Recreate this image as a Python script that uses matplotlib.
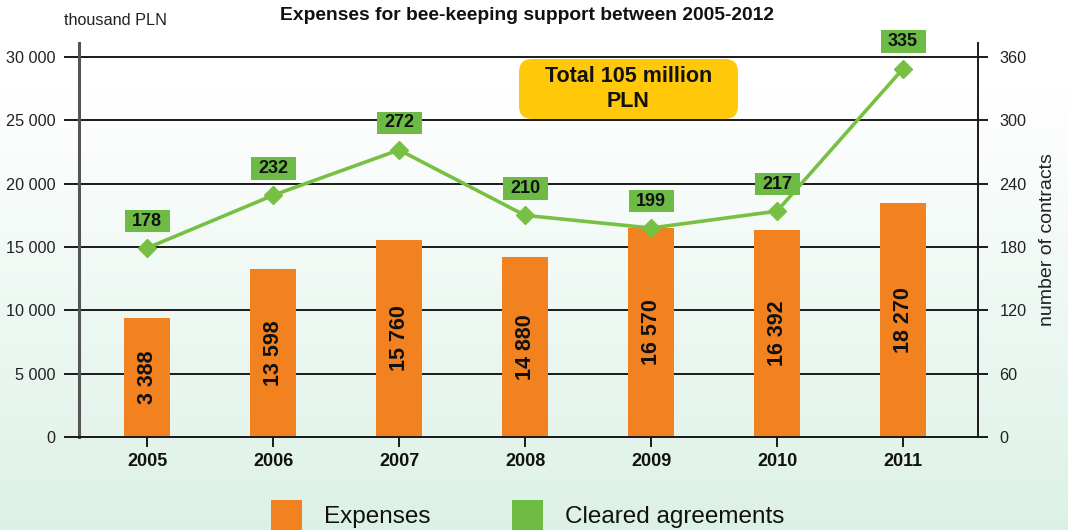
import numpy as np
import matplotlib
matplotlib.use('Agg')
import matplotlib.pyplot as plt
from matplotlib.patches import Rectangle, FancyBboxPatch
from matplotlib.transforms import IdentityTransform

# ---------------- data ----------------
years = ['2005', '2006', '2007', '2008', '2009', '2010', '2011']
expense_heights = [9400, 13270, 15550, 14210, 16500, 16340, 18500]
expense_labels = ['3 388', '13 598', '15 760', '14 880', '16 570', '16 392', '18 270']
contract_points = [179, 229, 272, 210, 198, 214, 349]
contract_labels = ['178', '232', '272', '210', '199', '217', '335']
left_ticks = [0, 5000, 10000, 15000, 20000, 25000, 30000]
left_tick_labels = ['0', '5 000', '10 000', '15 000', '20 000', '25 000', '30 000']
right_ticks = [0, 60, 120, 180, 240, 300, 360]
right_tick_labels = ['0', '60', '120', '180', '240', '300', '360']

ORANGE = '#f28220'
GREEN_BOX = '#6dbb45'
GREEN_LINE = '#78c043'
YELLOW = '#ffc808'

plt.rcParams['font.family'] = ['Liberation Sans', 'DejaVu Sans']

W, H = 1068, 530
fig = plt.figure(figsize=(W / 100, H / 100), dpi=100)

# background gradient
bg = fig.add_axes([0, 0, 1, 1], zorder=-10)
rows = np.arange(H)
t = np.clip((rows - 90) / (H - 90), 0, 1)[:, None]
top = np.array([1.0, 1.0, 1.0])
bot = np.array([0xdc, 0xf1, 0xe6]) / 255
img = (top * (1 - t) + bot * t)[:, None, :]
bg.imshow(img, aspect='auto', extent=[0, 1, 0, 1])
bg.set_axis_off()

# main axes
ax = fig.add_axes([78.5 / W, (H - 437) / H, (978 - 78.5) / W, (437 - 43) / H])
ax.set_facecolor('none')
x = np.arange(len(years))
ax.set_xlim(-0.544, 6.595)
ax.set_ylim(0, 31105)
ax.set_axisbelow(True)
ax.yaxis.grid(True, color='#1a1a1a', lw=1.4)
ax.bar(x, expense_heights, width=0.366, color=ORANGE, zorder=2)
for xi, h, lab in zip(x, expense_heights, expense_labels):
    ax.text(xi, h / 2, lab, rotation=90, ha='center', va='center',
            fontsize=15.5, fontweight='bold', color='#111', zorder=3)

ax.set_yticks(left_ticks)
ax.set_yticklabels(left_tick_labels)
ax.tick_params(axis='y', direction='out', length=10.7, width=1.4, color='#1a1a1a',
               labelsize=11.7, pad=6, labelcolor='#222')
ax.set_xticks(x)
ax.set_xticklabels(years, fontweight='bold')
ax.tick_params(axis='x', direction='out', length=7.2, width=1.4, color='#1a1a1a',
               labelsize=13, pad=4, labelcolor='#111')
for s in ['top', 'right']:
    ax.spines[s].set_visible(False)
ax.spines['left'].set_color('#555')
ax.spines['left'].set_linewidth(2.2)
ax.spines['bottom'].set_color('#1a1a1a')
ax.spines['bottom'].set_linewidth(1.4)

# right axis
ax2 = ax.twinx()
ax2.set_ylim(0, 373.3)
ax2.set_yticks(right_ticks)
ax2.set_yticklabels(right_tick_labels)
ax2.tick_params(axis='y', direction='out', length=7.5, width=1.4, color='#1a1a1a',
                labelsize=11.7, pad=8, labelcolor='#222')
for s in ['top', 'left', 'bottom']:
    ax2.spines[s].set_visible(False)
ax2.spines['right'].set_color('#1a1a1a')
ax2.spines['right'].set_linewidth(1.4)

ax2.plot(x, contract_points, color=GREEN_LINE, lw=2.6, marker='D', ms=9.5,
         markerfacecolor=GREEN_LINE, markeredgecolor=GREEN_LINE, zorder=3, clip_on=False)
bw, bh, off = 0.357, 21.3, 25.6
for xi, v, lab in zip(x, contract_points, contract_labels):
    ax2.add_patch(Rectangle((xi - bw / 2, v + off - bh / 2), bw, bh,
                            facecolor=GREEN_BOX, edgecolor='none', zorder=5, clip_on=False))
    ax2.text(xi, v + off, lab, ha='center', va='center', fontsize=13,
             fontweight='bold', color='#111', zorder=6, clip_on=False)

# texts
fig.text(526.5 / W, (H - 16) / H, 'Expenses for bee-keeping support between 2005-2012',
         ha='center', va='center', fontsize=13.9, fontweight='bold', color='#111')
fig.text(63.7 / W, (H - 20.7) / H, 'thousand PLN', ha='left', va='center',
         fontsize=11.7, color='#222')
fig.text(1048 / W, (H - 240) / H, 'number of contracts', rotation=90,
         ha='center', va='center', fontsize=14, color='#222')

# yellow box
fig.add_artist(FancyBboxPatch((519, H - 119), 219, 60,
                              boxstyle='round,pad=0,rounding_size=13',
                              transform=IdentityTransform(), facecolor=YELLOW,
                              edgecolor='none', zorder=4))
fig.text(628.5 / W, (H - 89) / H, 'Total 105 million\nPLN', ha='center', va='center',
         fontsize=15.5, fontweight='bold', color='#111', linespacing=1.3, zorder=5)

# legend
fig.add_artist(Rectangle((271, 0), 31, 30, transform=IdentityTransform(),
                         facecolor=ORANGE, edgecolor='none'))
fig.text(324 / W, (H - 517) / H, 'Expenses', ha='left', va='center',
         fontsize=17.5, color='#111')
fig.add_artist(Rectangle((512, 0), 31, 30, transform=IdentityTransform(),
                         facecolor=GREEN_BOX, edgecolor='none'))
fig.text(565 / W, (H - 517) / H, 'Cleared agreements', ha='left', va='center',
         fontsize=17.5, color='#111')

fig.savefig('out.png', dpi=100)
